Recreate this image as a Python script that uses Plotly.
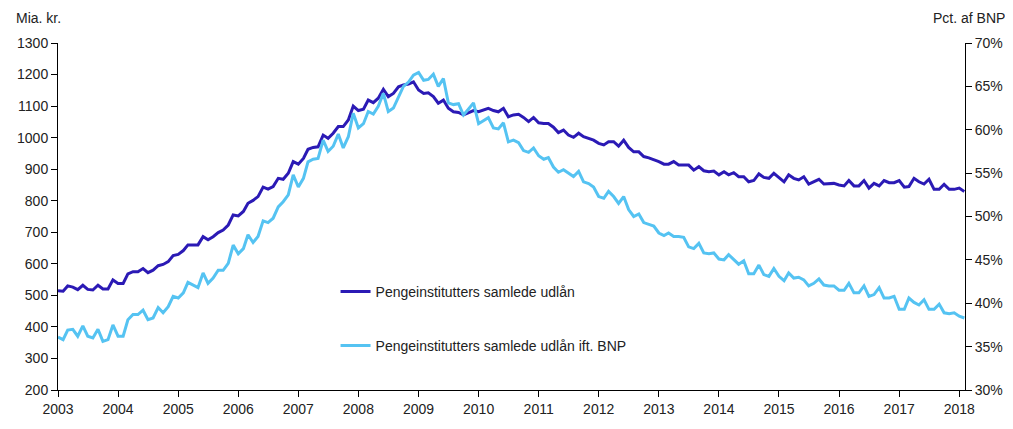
import pandas as pd
import plotly.graph_objects as go

# Monthly observations, January 2003 - February 2018
start_month = "2003-01-01"

# Pengeinstitutters samlede udlån (mia. kr.)
udlaan = [
    515, 513, 530, 526, 518, 532, 519, 517, 532, 520, 520, 549,
    538, 538, 568, 575, 575, 585, 572, 580, 594, 598, 607, 626,
    630, 642, 660, 660, 660, 686, 676, 686, 699, 707, 723, 755,
    752, 766, 792, 801, 813, 843, 837, 845, 871, 868, 887, 924,
    916, 934, 963, 969, 971, 1008, 998, 1014, 1035, 1035, 1056, 1100,
    1086, 1090, 1119, 1111, 1125, 1153, 1130, 1140, 1161, 1167, 1170, 1177,
    1151, 1140, 1142, 1130, 1109, 1119, 1093, 1082, 1080, 1072, 1079, 1086,
    1082, 1087, 1093, 1086, 1082, 1093, 1066, 1072, 1074, 1064, 1051, 1064,
    1047, 1045, 1045, 1033, 1016, 1024, 1008, 1001, 1014, 1003, 998, 992,
    982, 977, 987, 987, 973, 992, 969, 955, 955, 940, 936, 931,
    924, 916, 916, 924, 913, 913, 913, 897, 908, 895, 892, 894,
    882, 892, 882, 889, 876, 876, 860, 864, 885, 874, 871, 887,
    874, 860, 882, 871, 866, 876, 853, 860, 868, 853, 853, 855,
    850, 847, 864, 847, 847, 864, 840, 855, 847, 864, 857, 857,
    864, 843, 845, 871, 860, 853, 868, 836, 836, 852, 836, 836,
    840, 829,
]

# Pengeinstitutters samlede udlån ift. BNP (pct.)
udlaan_bnp = [
    36.1, 35.8, 36.9, 37.0, 36.2, 37.4, 36.2, 36.0, 37.0, 35.6, 35.8, 37.5,
    36.2, 36.2, 38.1, 38.7, 38.7, 39.2, 38.1, 38.3, 39.5, 38.9, 39.6, 40.8,
    40.6, 41.2, 42.4, 42.1, 41.8, 43.5, 42.3, 42.9, 43.8, 43.8, 44.6, 46.7,
    45.7, 46.3, 47.9, 47.0, 47.7, 49.5, 49.3, 49.8, 51.1, 51.7, 52.5, 54.8,
    53.4, 54.4, 56.3, 56.6, 56.7, 58.8, 57.5, 58.1, 59.5, 57.9, 59.2, 61.9,
    60.2, 60.7, 62.1, 61.8, 62.7, 64.2, 62.1, 62.5, 63.8, 65.0, 65.5, 66.3,
    66.6, 65.7, 65.8, 66.4, 65.0, 65.9, 63.1, 62.9, 63.0, 61.7, 62.4, 63.1,
    60.7, 61.1, 61.4, 60.2, 60.1, 60.8, 58.6, 58.8, 58.5, 57.6, 57.4, 57.9,
    57.0, 56.6, 56.8, 55.7, 55.1, 55.4, 55.0, 54.6, 55.2, 54.0, 53.8, 53.4,
    52.3, 52.1, 52.9, 52.3, 51.5, 52.3, 50.8, 50.0, 50.3, 49.3, 49.1, 48.9,
    48.1, 47.8, 48.1, 47.7, 47.7, 47.6, 46.5, 46.3, 46.9, 45.8, 45.7, 45.8,
    45.1, 45.0, 45.6, 45.0, 44.5, 44.9, 43.4, 43.4, 44.4, 43.3, 43.1, 44.0,
    43.1, 42.6, 43.5, 42.9, 43.0, 42.7, 42.0, 42.3, 42.8, 42.1, 42.0, 42.0,
    41.5, 41.5, 42.3, 41.2, 41.2, 42.0, 40.8, 41.0, 41.8, 40.6, 40.6, 40.8,
    39.3, 39.3, 40.6, 40.1, 39.8, 40.4, 39.3, 39.3, 39.9, 38.9, 38.8, 38.9,
    38.5, 38.3,
]

year_ticks = [str(y) for y in range(2003, 2019)]

dates = pd.date_range(start_month, periods=len(udlaan), freq="MS")

DARK = "#2B1AB5"
LIGHT = "#55C3F2"
FONT = "Liberation Sans, Arial, sans-serif"
TXT = "#222222"

fig = go.Figure()
fig.add_trace(go.Scatter(
    x=dates, y=udlaan, mode="lines", name="Pengeinstitutters samlede udlån",
    line=dict(color=DARK, width=3), yaxis="y", legend="legend", showlegend=True,
))
fig.add_trace(go.Scatter(
    x=dates, y=udlaan_bnp, mode="lines", name="Pengeinstitutters samlede udlån ift. BNP",
    line=dict(color=LIGHT, width=3), yaxis="y2", legend="legend2", showlegend=True,
))

axis_common = dict(
    showgrid=False, zeroline=False, showline=True, linecolor="black", linewidth=1,
    ticks="outside", ticklen=6, tickcolor="black", tickwidth=1, automargin=False,
    tickfont=dict(family=FONT, size=14, color=TXT),
)

# The page body adds an 8 px margin, so the figure is sized to fit inside it.
fig.update_layout(
    width=997, height=413,
    margin=dict(l=50, r=40, t=35, b=31, autoexpand=False),
    paper_bgcolor="white", plot_bgcolor="white",
    showlegend=True,
    font=dict(family=FONT, size=14, color=TXT),
    xaxis=dict(
        **axis_common, type="date",
        range=["2003-01-01", "2018-02-05"],
        tickvals=[f"{y}-01-01" for y in year_ticks],
        ticktext=year_ticks,
    ),
    yaxis=dict(**axis_common, range=[200, 1300], dtick=100, tick0=200),
    yaxis2=dict(**axis_common, range=[30, 70], dtick=5, tick0=30,
                ticksuffix="%", overlaying="y", side="right"),
    legend=dict(x=0.306, y=0.283, xanchor="left", yanchor="middle",
                bgcolor="rgba(0,0,0,0)", font=dict(family=FONT, size=14, color=TXT)),
    legend2=dict(x=0.306, y=0.127, xanchor="left", yanchor="middle",
                 bgcolor="rgba(0,0,0,0)", font=dict(family=FONT, size=14, color=TXT)),
    annotations=[
        dict(text="Mia. kr.", xref="paper", yref="paper", x=-0.048, y=1.044,
             xanchor="left", yanchor="bottom", showarrow=False,
             font=dict(family=FONT, size=14, color=TXT)),
        dict(text="Pct. af BNP", xref="paper", yref="paper", x=1.046, y=1.044,
             xanchor="right", yanchor="bottom", showarrow=False,
             font=dict(family=FONT, size=14, color=TXT)),
    ],
)

fig.write_html("out.html")
